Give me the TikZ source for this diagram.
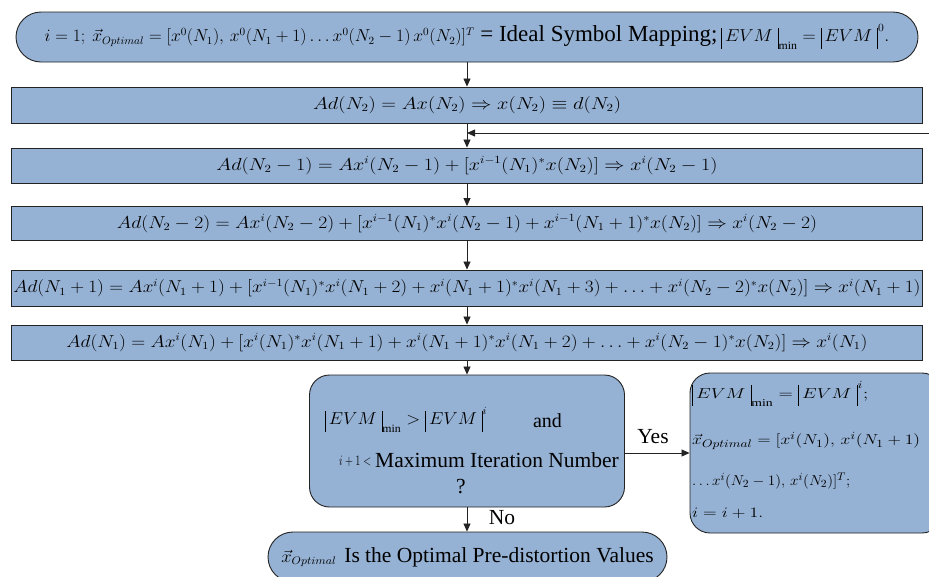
\documentclass[tikz,border=0pt]{standalone}
\usepackage{amsmath}
\usepackage{fontspec}
\setmainfont{Liberation Serif}
\usetikzlibrary{arrows.meta}
\definecolor{boxfill}{RGB}{149,177,211}
\definecolor{edgecol}{RGB}{35,35,35}
\newcommand{\fitw}[2]{\resizebox{#1}{\height}{#2}}
\newcommand{\mfont}{\fontsize{16}{19}\selectfont}
\newcommand{\sfnt}{\fontsize{15}{18}\selectfont}
\newcommand{\tfont}{\fontsize{21.5}{25}\selectfont}
\newcommand{\evmbar}{{\vrule height 14pt depth 7pt width 0.6pt}}
\newcommand{\evm}{\evmbar\,EVM\;\evmbar}
\begin{document}
\begin{tikzpicture}[x=1pt,y=-1pt,
  rectbox/.style={draw=edgecol, fill=boxfill, line width=0.9pt, inner sep=0pt,
    minimum width=911pt, font=\mfont},
  roundbox/.style={draw=edgecol, fill=boxfill, line width=0.9pt, inner sep=0pt,
    rounded corners=20pt},
  stadium/.style={draw=edgecol, fill=boxfill, line width=0.9pt, inner sep=0pt,
    rounded corners=25pt, minimum height=50pt, font=\tfont},
  txt/.style={inner sep=0pt, font=\tfont},
  arr/.style={draw=edgecol, line width=0.8pt, -{Triangle[length=8pt,width=7pt]}}]
\useasboundingbox (0,0) rectangle (929,576);

% start
\node[stadium, minimum width=902pt] (init) at (467,37)
  {\mfont\fitw{430pt}{$i=1;\ \vec{x}_{Optimal} = [x^0(N_1),\, x^0(N_1+1)\ldots x^0(N_2-1)\,x^0(N_2)]^T$}\fontsize{23}{27}\selectfont{} = Ideal Symbol Mapping;\,\mfont\fitw{168pt}{$\evm_{\min} = \evm^0.$}};

% equation boxes
\node[rectbox, minimum height=36pt] (b1) at (467,105)
  {\fitw{308pt}{$Ad(N_2) = Ax(N_2) \Rightarrow x(N_2) \equiv d(N_2)$}};
\node[rectbox, minimum height=35pt] (b2) at (467,165.5)
  {\fitw{501pt}{$Ad(N_2-1) = Ax^i(N_2-1) + [x^{i-1}(N_1)^* x(N_2)] \Rightarrow x^i(N_2-1)$}};
\node[rectbox, minimum height=34pt] (b3) at (467,223.5)
  {\fitw{700pt}{$Ad(N_2-2) = Ax^i(N_2-2) + [x^{i-1}(N_1)^* x^i(N_2-1) + x^{i-1}(N_1+1)^* x(N_2)] \Rightarrow x^i(N_2-2)$}};
\node[rectbox, minimum height=36pt] (b4) at (467,288)
  {\fitw{907pt}{$Ad(N_1+1) = Ax^i(N_1+1) + [x^{i-1}(N_1)^* x^i(N_1+2) + x^i(N_1+1)^* x^i(N_1+3) + \ldots + x^i(N_2-2)^* x(N_2)] \Rightarrow x^i(N_1+1)$}};
\node[rectbox, minimum height=35pt] (b5) at (467,342.5)
  {\fitw{801pt}{$Ad(N_1) = Ax^i(N_1) + [x^i(N_1)^* x^i(N_1+1) + x^i(N_1+1)^* x^i(N_1+2) + \ldots + x^i(N_2-1)^* x(N_2)] \Rightarrow x^i(N_1)$}};

% decision
\node[roundbox, minimum width=315pt, minimum height=132pt] (dec) at (467,441) {};
\node[txt, anchor=west, font=\mfont] (d1) at (325,420) {\fitw{162pt}{$\evm_{\min} > \evm^i$}};
\node[txt, font=\fontsize{20}{24}\selectfont] (d1b) at (547.5,421) {and};
\node[txt, anchor=west, font=\sfnt] (d2a) at (339,461) {\fitw{32pt}{$i+1<$}};
\node[txt, anchor=west] (d2b) at (375,460) {Maximum Iteration Number};
\node[txt] (d3) at (461,487) {?};

% update box
\node[roundbox, minimum width=252pt, minimum height=160pt] (rb) at (816,453) {};
\node[txt, anchor=west, font=\sfnt] (r1) at (692,394) {\fitw{176pt}{$\evm_{\min} = \evm^i;$}};
\node[txt, anchor=west, font=\sfnt] (r2) at (692,441) {\fitw{228pt}{$\vec{x}_{Optimal} = [x^i(N_1),\, x^i(N_1+1)$}};
\node[txt, anchor=west, font=\sfnt] (r3) at (692,481) {\fitw{158pt}{$\ldots x^i(N_2-1),\, x^i(N_2)]^T;$}};
\node[txt, anchor=west, font=\sfnt] (r4) at (692,513) {\fitw{71pt}{$i = i+1.$}};

% end
\node[stadium, minimum width=399pt] (fin) at (467.5,557)
  {\mfont\fitw{55pt}{$\vec{x}_{Optimal}$}\hspace{8pt}\tfont Is the Optimal Pre-distortion Values};

% feedback entry
\coordinate (fb) at (929,133);

% connectors
\draw[arr] (init.south) -- (b1.north);
\draw[arr] (b1.south) -- (b2.north);
\draw[arr] (fb) -- (fb -| b2.north);
\draw[arr] (b2.south) -- (b3.north);
\draw[arr] (b3.south) -- (b4.north);
\draw[arr] (b4.south) -- (b5.north);
\draw[arr] (b5.south) -- (dec.north);
\draw[arr] (dec.east |- rb.west) -- (rb.west);
\draw[arr] (dec.south) -- (dec.south |- fin.north);
\node[txt] (yes) at (653,437) {Yes};
\node[txt] (no) at (502,518) {No};
\end{tikzpicture}
\end{document}
